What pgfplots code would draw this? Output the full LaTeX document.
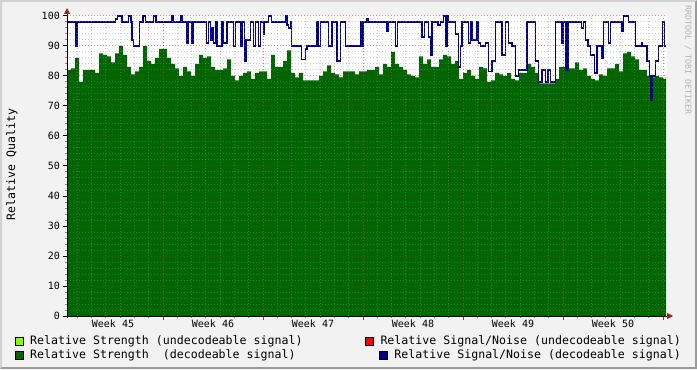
\documentclass[border=0pt]{standalone}
\usepackage{fontspec}
\setmainfont{DejaVu Sans Mono}
\usepackage{pgfplots}
\pgfplotsset{compat=1.18}
\definecolor{bgc}{HTML}{F2F2F2}
\definecolor{shadeA}{HTML}{D2D2D2}
\definecolor{shadeB}{HTML}{9A9A9A}
\definecolor{dgreen}{HTML}{006600}
\definecolor{dblue}{HTML}{000090}
\definecolor{lgreen}{HTML}{7FFF00}
\definecolor{gridc}{HTML}{8C8C8C}
\definecolor{mgridc}{HTML}{D02020}
\definecolor{arrowc}{HTML}{A01E1E}
\definecolor{wmc}{HTML}{B4B4B4}
\newcommand{\tickf}{\fontsize{10bp}{12bp}\selectfont}
\newcommand{\legf}{\fontsize{11.6bp}{14bp}\selectfont}
\newcommand{\wmf}{\fontsize{8.3bp}{10bp}\selectfont}
\begin{document}
\begin{tikzpicture}
\begin{scope}[x=1bp,y=1bp]
\useasboundingbox (0,0) rectangle (697,369);
\fill[bgc] (0,0) rectangle (697,369);
\fill[shadeA] (0,369) -- (697,369) -- (695,367) -- (2,367) -- (2,2) -- (0,0) -- cycle;
\fill[shadeB] (697,0) -- (697,369) -- (695,367) -- (695,2) -- (2,2) -- (0,0) -- cycle;
\end{scope}
\begin{axis}[
  at={(67bp,53bp)}, anchor=south west,
  scale only axis, width=600bp, height=300bp,
  xmin=0, xmax=600, ymin=0, ymax=100,
  axis background/.style={fill=white},
  axis line style={draw=none},
  axis on top, clip=false,
  tick align=outside, tick pos=left,
  major tick length=4bp, minor tick length=2bp,
  xtick={96,196,296,396,496,596},
  xticklabels={},
  minor xtick={10.2857,24.5714,...,597},
  extra x ticks={46,146,246,346,446,546},
  extra x tick labels={Week 45,Week 46,Week 47,Week 48,Week 49,Week 50},
  extra x tick style={xmajorgrids=false, major tick length=0pt},
  major x tick style={draw=mgridc, line width=1bp},
  minor x tick style={draw=gridc, line width=1bp},
  ytick={0,10,...,100},
  minor y tick num=4,
  major y tick style={draw=black, line width=1bp},
  minor y tick style={draw=gridc, line width=1bp},
  xmajorgrids=true, xminorgrids=true, ymajorgrids=true, yminorgrids=true,
  major grid style={draw=mgridc, draw opacity=0.45, line width=1bp, dash pattern=on 1bp off 2bp},
  minor grid style={draw=gridc, draw opacity=0.4, line width=1bp, dash pattern=on 1bp off 2bp},
  every tick label/.append style={font=\tickf, text=black},
  /pgf/number format/assume math mode=true,
  yticklabel style={anchor=east, inner sep=0pt, xshift=-3bp},
  xticklabel style={anchor=north, inner sep=0pt, yshift=-4bp},
]
\addplot[const plot, fill=dgreen, draw=none] table {
x y
0 82
4 82.5
8 86
12 78
16 82
20 82
24 82
28 81
32 87.5
36 87
40 86.5
44 84.5
48 87.5
52 90
56 87
60 83
64 80.5
68 81.5
72 83
76 90
80 85
84 84
88 86
92 89
96 89
100 86
104 84
108 82.5
112 80
116 83
120 81.5
124 80
128 84
132 87
136 86
140 86.5
144 83
148 82
152 82
156 82.5
160 85.5
164 80
168 78.5
172 80
176 81
180 81.5
184 79
188 81
192 81.5
196 81.5
200 79
204 87
208 83
212 83
216 85
220 88.5
224 81
228 79.5
232 81
236 78.5
240 78.5
244 78.5
248 78.5
252 80
256 81.5
260 83.5
264 81
268 80.5
272 79.5
276 81.5
280 81.5
284 81.5
288 80.5
292 81.5
296 81.5
300 82
304 82
308 83
312 80.5
316 84
320 83
324 88
328 84
332 83
336 82
340 80.5
344 80
348 79.5
352 86.5
356 84
360 85.5
364 83
368 83
372 85.5
376 87
380 86.5
384 84
388 85
392 79
396 81
400 82
404 80
408 79
412 83
416 82.5
420 78
424 78.5
428 81
432 80.5
436 80
440 81
444 79
448 78.5
452 81
456 81
460 84
464 83
468 81
472 77.5
476 77.5
480 77.5
484 77.5
488 79
492 83
496 83
500 82.5
504 82.5
508 84.5
512 82
516 82.5
520 80
524 79
528 78.5
532 80.5
536 80
540 82.5
544 82.5
548 84
552 81.5
556 87.5
560 88
564 86.5
568 85.5
572 82
576 82
580 80
584 79.5
588 80
592 79.5
596 79
599 79
} \closedcycle;
\addplot[const plot, draw=dblue, line width=1.3bp] table {
x y
0 98
9 90
10.7 98
48.3 99
50.7 100
55 98
61.7 100
64 98
65 92
66.7 90
72.3 98
76 100
78.3 98
86.7 100
89 98
105 100
106.7 98
114 100
115.7 98
120 91
121.7 98
125 91
126.7 98
139.3 91
141.7 98
143.3 92
145 96
146.7 91
148.3 98
150 90
155 98
156.7 91
160 98
166.7 90
168.3 98
173.3 90
175 98
177.7 85
179 92
183.3 98
186.7 90
188.3 98
191.7 90
193.3 98
196.7 94
197.7 98
201.7 100
204.3 98
218.3 100
220 97
221.7 96
223.3 98
224.3 90
234.3 85.5
238.3 89
240 90
250 98
251.7 90
253.3 98
261.7 90
265 98
270 85
273.3 98
278.3 90
293.3 98
295 90
296.7 98
300 99
301.7 98
320 95
321.7 98
328.3 90
330.7 98
355 93
357.7 98
361.7 93
363.3 87
365 98
371 97
373.3 98
376.7 100
378.3 90
380 100
381.7 98
388.3 94
391.7 83
393.3 90
395 98
401.7 91
403.3 98
405 92
410 98
411.7 91
413.3 90
418.3 91
421.7 81.5
425 85
428.3 98
435 87
438.3 98
441.7 91
445 90
448.3 80
451.7 82
460 98
468.3 85
471.7 78
475 82
478.3 78
481 82
483.3 78
488.3 98
495 91
496.7 98
499 82
501 98
514.3 96
516.7 98
518.3 92
521 90
523.3 87
527.3 81
530 90
535 86
536.7 98
541.7 91
543.3 98
555 95
556.7 100
561.7 98
568.3 90
574.3 91
575.7 90
580 85
582.3 80
583.3 72
585 80
588.3 85
591.7 90
595.7 98
597.3 90
599 90
};
\end{axis}
\begin{scope}[x=1bp,y=1bp]
\draw[black, line width=1bp] (67,51) -- (67,356);
\fill[arrowc] (64,355) -- (70,355) -- (67,361) -- cycle;
\draw[black, line width=1bp] (65,53) -- (668,53);
\fill[arrowc] (667,50) -- (667,56) -- (673,53) -- cycle;
\node[rotate=90, font=\legf, inner sep=0pt] at (12,204.5) {Relative Quality};
\node[rotate=-90, font=\wmf, text=wmc, inner sep=0pt] at (688,309) {RRDTOOL / TOBI OETIKER};
\filldraw[fill=lgreen, draw=black, line width=1bp] (15.5,24) rectangle (23,31.5);
\filldraw[fill=dgreen, draw=black, line width=1bp] (15.5,10) rectangle (23,17.5);
\filldraw[fill=red, draw=black, line width=1bp] (365.5,24) rectangle (373,31.5);
\filldraw[fill=dblue, draw=black, line width=1bp] (379.5,10) rectangle (387,17.5);
\node[anchor=base west, inner sep=0pt, font=\legf] at (30,24.3) {Relative Strength (undecodeable signal)};
\node[anchor=base west, inner sep=0pt, font=\legf] at (30,10.3) {Relative Strength~~(decodeable signal)};
\node[anchor=base east, inner sep=0pt, font=\legf] at (681,24.3) {Relative Signal/Noise (undecodeable signal)};
\node[anchor=base east, inner sep=0pt, font=\legf] at (681,10.3) {Relative Signal/Noise (decodeable signal)};
\end{scope}
\end{tikzpicture}
\end{document}
